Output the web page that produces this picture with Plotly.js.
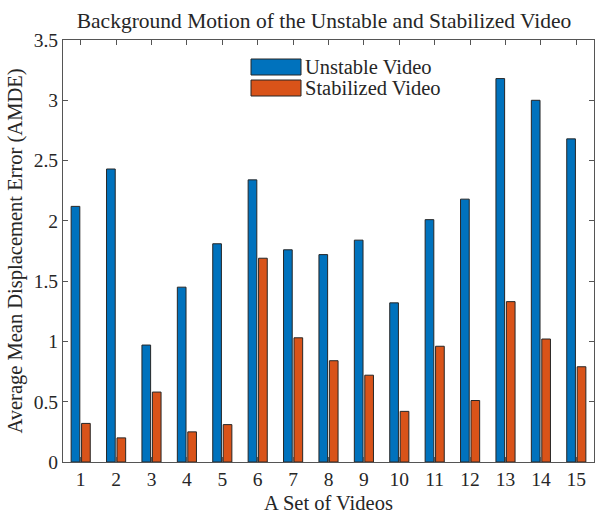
<!DOCTYPE html>
<html>
<head>
<meta charset="utf-8">
<script src="https://cdn.plot.ly/plotly-3.0.1.min.js"></script>
<style>html,body{margin:0;padding:0;background:#fff;}#chart{width:600px;height:514px;}</style>
</head>
<body>
<div id="chart"></div>
<script>
const videos = [1,2,3,4,5,6,7,8,9,10,11,12,13,14,15];
const unstable = [2.12,2.43,0.97,1.45,1.81,2.34,1.76,1.72,1.84,1.32,2.01,2.18,3.18,3.00,2.68];
const stabilized = [0.32,0.20,0.58,0.25,0.31,1.69,1.03,0.84,0.72,0.42,0.96,0.51,1.33,1.02,0.79];
const seriesNames = ['Unstable Video','Stabilized Video'];
const yTicks = [0,0.5,1,1.5,2,2.5,3,3.5];
const yTickText = ['0','0.5','1','1.5','2','2.5','3','3.5'];

const blue = '#0072BD', orange = '#D95319';
const font = 'Liberation Serif, Times New Roman, serif';
const txt = '#262626';

const traces = [
  {type:'bar', x:videos, y:unstable, name:seriesNames[0], width:0.245, offset:-0.27,
   marker:{color:blue, line:{color:'#262626', width:1}}, showlegend:false},
  {type:'bar', x:videos, y:stabilized, name:seriesNames[1], width:0.245, offset:0.025,
   marker:{color:orange, line:{color:'#262626', width:1}}, showlegend:false}
];

const axLine = '#555';
const layout = {
  width:600, height:514,
  margin:{l:63, r:6, t:40, b:52},
  paper_bgcolor:'#fff', plot_bgcolor:'#fff',
  barmode:'overlay',
  font:{family:font, color:txt, size:19},
  title:{text:'Background Motion of the Unstable and Stabilized Video', x:0.54, xanchor:'center', y:0.975, yanchor:'top',
         font:{family:font, size:21.5, color:txt}},
  xaxis:{range:[0.5,15.5], tickvals:videos, ticktext:videos.map(String), ticks:'inside', ticklen:5, tickcolor:axLine,
         showline:true, linecolor:axLine, linewidth:1, mirror:'ticks', showgrid:false, zeroline:false,
         tickfont:{family:font, size:19.5, color:txt},
         title:{text:'A Set of Videos', font:{family:font, size:20.5, color:txt}, standoff:6}},
  yaxis:{range:[0,3.5], tickvals:yTicks, ticktext:yTickText, ticks:'inside', ticklen:5, tickcolor:axLine,
         showline:true, linecolor:axLine, linewidth:1, mirror:'ticks', showgrid:false, zeroline:false,
         tickfont:{family:font, size:19.5, color:txt},
         title:{text:'Average Mean Displacement Error (AMDE)', font:{family:font, size:20.5, color:txt}, standoff:5}},
  shapes:[
    {type:'rect', xref:'paper', yref:'paper', x0:(251-63)/531, x1:(301-63)/531, y0:(462-75)/422, y1:(462-59)/422,
     fillcolor:blue, line:{color:'#262626', width:1}},
    {type:'rect', xref:'paper', yref:'paper', x0:(251-63)/531, x1:(301-63)/531, y0:(462-96)/422, y1:(462-80)/422,
     fillcolor:orange, line:{color:'#262626', width:1}}
  ],
  annotations:[
    {text:seriesNames[0], xref:'paper', yref:'paper', x:(304-63)/531, y:(462-67)/422, xanchor:'left', yanchor:'middle',
     showarrow:false, borderpad:0, font:{family:font, size:20.5, color:txt}},
    {text:seriesNames[1], xref:'paper', yref:'paper', x:(304-63)/531, y:(462-88)/422, xanchor:'left', yanchor:'middle',
     showarrow:false, borderpad:0, font:{family:font, size:20.5, color:txt}}
  ]
};

Plotly.newPlot('chart', traces, layout, {displayModeBar:false, staticPlot:true});
</script>
</body>
</html>
